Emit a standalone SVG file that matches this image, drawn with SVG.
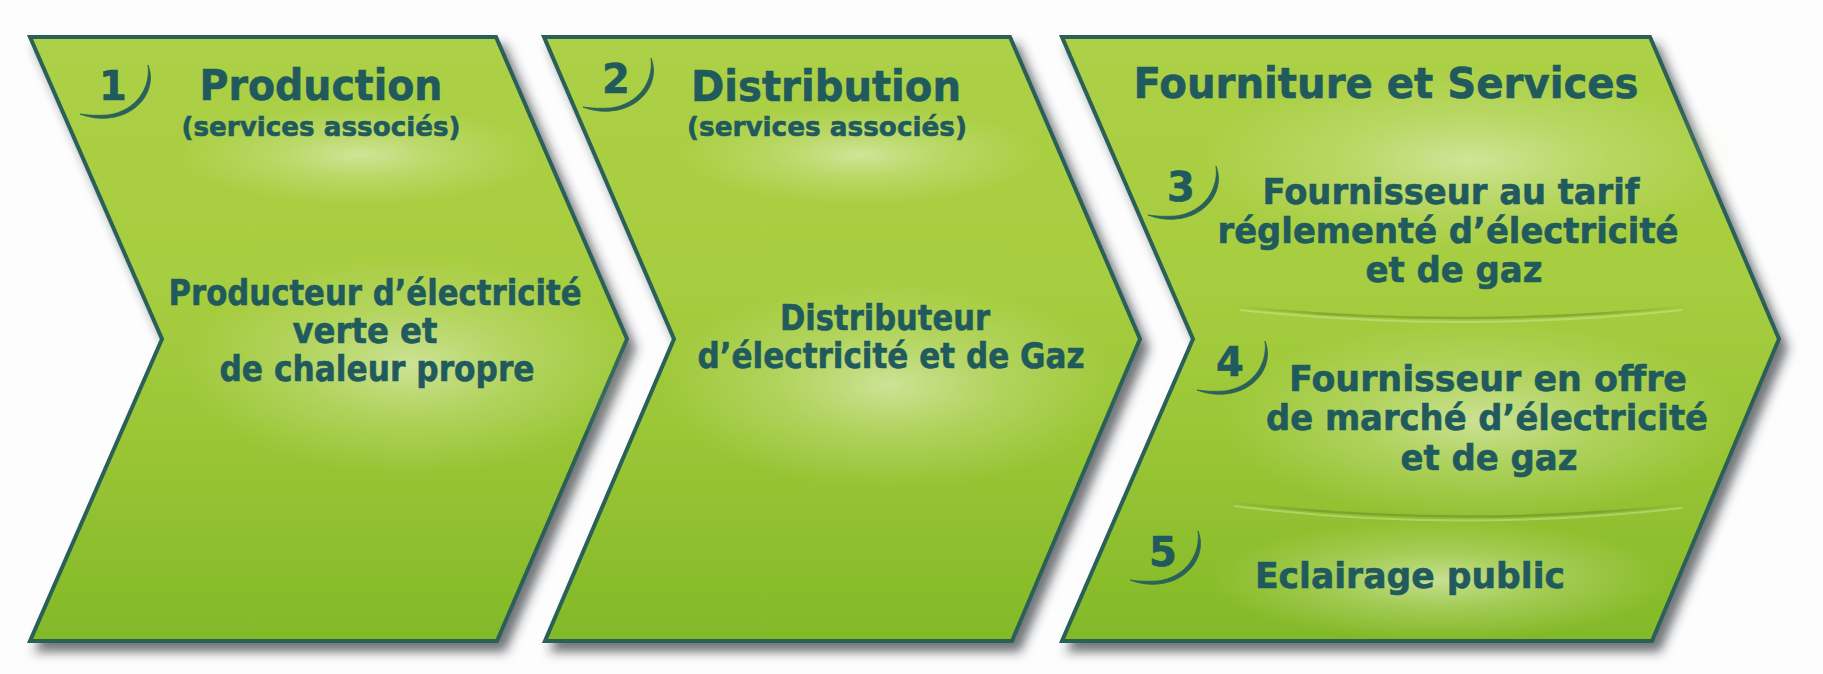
<svg xmlns="http://www.w3.org/2000/svg" width="1823" height="674" viewBox="0 0 1823 674">
  <defs>
    <!-- body fill of each chevron: yellow-green on top, deeper green below -->
    <linearGradient id="chevronFill" x1="0" y1="0" x2="0" y2="1">
      <stop offset="0" stop-color="#acd046"/>
      <stop offset="0.4" stop-color="#a7cd40"/>
      <stop offset="0.65" stop-color="#9bc636"/>
      <stop offset="1" stop-color="#83b928"/>
    </linearGradient>
    <!-- soft pale glow behind the labels -->
    <radialGradient id="glow" cx="0.5" cy="0.5" r="0.5">
      <stop offset="0" stop-color="#e0eebe" stop-opacity="0.7"/>
      <stop offset="0.5" stop-color="#d6e9a6" stop-opacity="0.32"/>
      <stop offset="1" stop-color="#d6e9a6" stop-opacity="0"/>
    </radialGradient>
    <!-- faint curved divider between the supply items -->
    <linearGradient id="divider" x1="0" y1="0" x2="1" y2="0">
      <stop offset="0" stop-color="#55862a" stop-opacity="0"/>
      <stop offset="0.2" stop-color="#55862a" stop-opacity="0.45"/>
      <stop offset="0.8" stop-color="#55862a" stop-opacity="0.45"/>
      <stop offset="1" stop-color="#55862a" stop-opacity="0"/>
    </linearGradient>
    <filter id="shadow" x="-5%" y="-5%" width="115%" height="115%">
      <feDropShadow dx="7" dy="9" stdDeviation="5.5" flood-color="#262b30" flood-opacity="0.65"/>
    </filter>
    <!-- thin crescent drawn round each step number, thickest at the bottom -->
    <path id="numArc" d="M35,-21 C44,1 28,29 -5,32 C-16,33 -25,31 -33,28 C-24,29.5 -15,29.5 -5,29 C23,25 38,2 35,-21 Z"/>
  </defs>
  <style>
    .chevron { fill: url(#chevronFill); stroke: #2a6158; stroke-width: 4; stroke-linejoin: miter; filter: url(#shadow); }
    .glow { fill: url(#glow); }
    .arc { fill: #2a6158; stroke: #2a6158; stroke-width: 0.8; }
    .sep { fill: none; stroke: url(#divider); stroke-width: 2.5; }
    .sepLight { fill: none; stroke: #dcedb2; stroke-opacity: 0.4; stroke-width: 2; }
    text { font-family: "DejaVu Sans", "Liberation Sans", sans-serif; font-weight: bold; fill: #215a5c; stroke: #215a5c; stroke-width: 0.6; text-anchor: middle; }
    .num { font-size: 40px; }
    .title { font-size: 42px; }
    .sub { font-size: 27px; }
    .body { font-size: 36px; }
  </style>

  <rect width="1823" height="674" fill="#fdfdfd"/>

  <!-- step 1 -->
  <g id="node-production">
    <polygon class="chevron" points="30,37 496,37 627,339 497,641 30,641 162,339"/>
    <ellipse class="glow" cx="410" cy="365" rx="230" ry="110"/>
    <ellipse class="glow" cx="360" cy="155" rx="180" ry="50"/>
    <text class="num" x="113" y="100">1</text>
    <use href="#numArc" class="arc" transform="translate(113,86)"/>
    <text class="title" x="321" y="100" textLength="243" lengthAdjust="spacingAndGlyphs">Production</text>
    <text class="sub" x="321" y="136" textLength="279" lengthAdjust="spacingAndGlyphs">(services associés)</text>
    <text class="body" x="375" y="305" textLength="413" lengthAdjust="spacingAndGlyphs">Producteur d’électricité</text>
    <text class="body" x="365" y="343" textLength="145" lengthAdjust="spacingAndGlyphs">verte et</text>
    <text class="body" x="377" y="381" textLength="315" lengthAdjust="spacingAndGlyphs">de chaleur propre</text>
  </g>

  <!-- step 2 -->
  <g id="node-distribution">
    <polygon class="chevron" points="544,37 1010,37 1140,339 1012,641 545,641 674,339"/>
    <ellipse class="glow" cx="890" cy="385" rx="230" ry="105"/>
    <ellipse class="glow" cx="860" cy="155" rx="180" ry="50"/>
    <text class="num" x="616" y="93">2</text>
    <use href="#numArc" class="arc" transform="translate(616,79)"/>
    <text class="title" x="826" y="101" textLength="270" lengthAdjust="spacingAndGlyphs">Distribution</text>
    <text class="sub" x="827" y="136" textLength="280" lengthAdjust="spacingAndGlyphs">(services associés)</text>
    <text class="body" x="885" y="330" textLength="210" lengthAdjust="spacingAndGlyphs">Distributeur</text>
    <text class="body" x="891" y="368" textLength="387" lengthAdjust="spacingAndGlyphs">d’électricité et de Gaz</text>
  </g>

  <!-- steps 3 to 5: supply and services -->
  <g id="node-fourniture">
    <polygon class="chevron" points="1062,37 1650,37 1779,339 1652,641 1062,641 1193,339"/>
    <ellipse class="glow" cx="1470" cy="160" rx="270" ry="90"/>
    <ellipse class="glow" cx="1480" cy="420" rx="260" ry="100"/>
    <ellipse class="glow" cx="1440" cy="580" rx="230" ry="60"/>
    <text class="title" x="1386" y="98" textLength="505" lengthAdjust="spacingAndGlyphs">Fourniture et Services</text>

    <g id="item-3">
      <text class="num" x="1181" y="201">3</text>
      <use href="#numArc" class="arc" transform="translate(1181,187)"/>
      <text class="body" x="1451" y="204" textLength="377" lengthAdjust="spacingAndGlyphs">Fournisseur au tarif</text>
      <text class="body" x="1448" y="243" textLength="461" lengthAdjust="spacingAndGlyphs">réglementé d’électricité</text>
      <text class="body" x="1454" y="282" textLength="177" lengthAdjust="spacingAndGlyphs">et de gaz</text>
    </g>
    <path class="sep" d="M1232,306 Q1461,330 1690,306"/>
    <path class="sepLight" d="M1240,310 Q1461,334 1682,310"/>

    <g id="item-4">
      <text class="num" x="1230" y="376">4</text>
      <use href="#numArc" class="arc" transform="translate(1230,362)"/>
      <text class="body" x="1488" y="391" textLength="398" lengthAdjust="spacingAndGlyphs">Fournisseur en offre</text>
      <text class="body" x="1487" y="430" textLength="442" lengthAdjust="spacingAndGlyphs">de marché d’électricité</text>
      <text class="body" x="1489" y="470" textLength="177" lengthAdjust="spacingAndGlyphs">et de gaz</text>
    </g>
    <path class="sep" d="M1226,502 Q1458,530 1690,504"/>
    <path class="sepLight" d="M1234,506 Q1458,534 1682,508"/>

    <g id="item-5">
      <text class="num" x="1163" y="566">5</text>
      <use href="#numArc" class="arc" transform="translate(1163,552)"/>
      <text class="body" x="1410" y="588" textLength="310" lengthAdjust="spacingAndGlyphs">Eclairage public</text>
    </g>
  </g>
</svg>
